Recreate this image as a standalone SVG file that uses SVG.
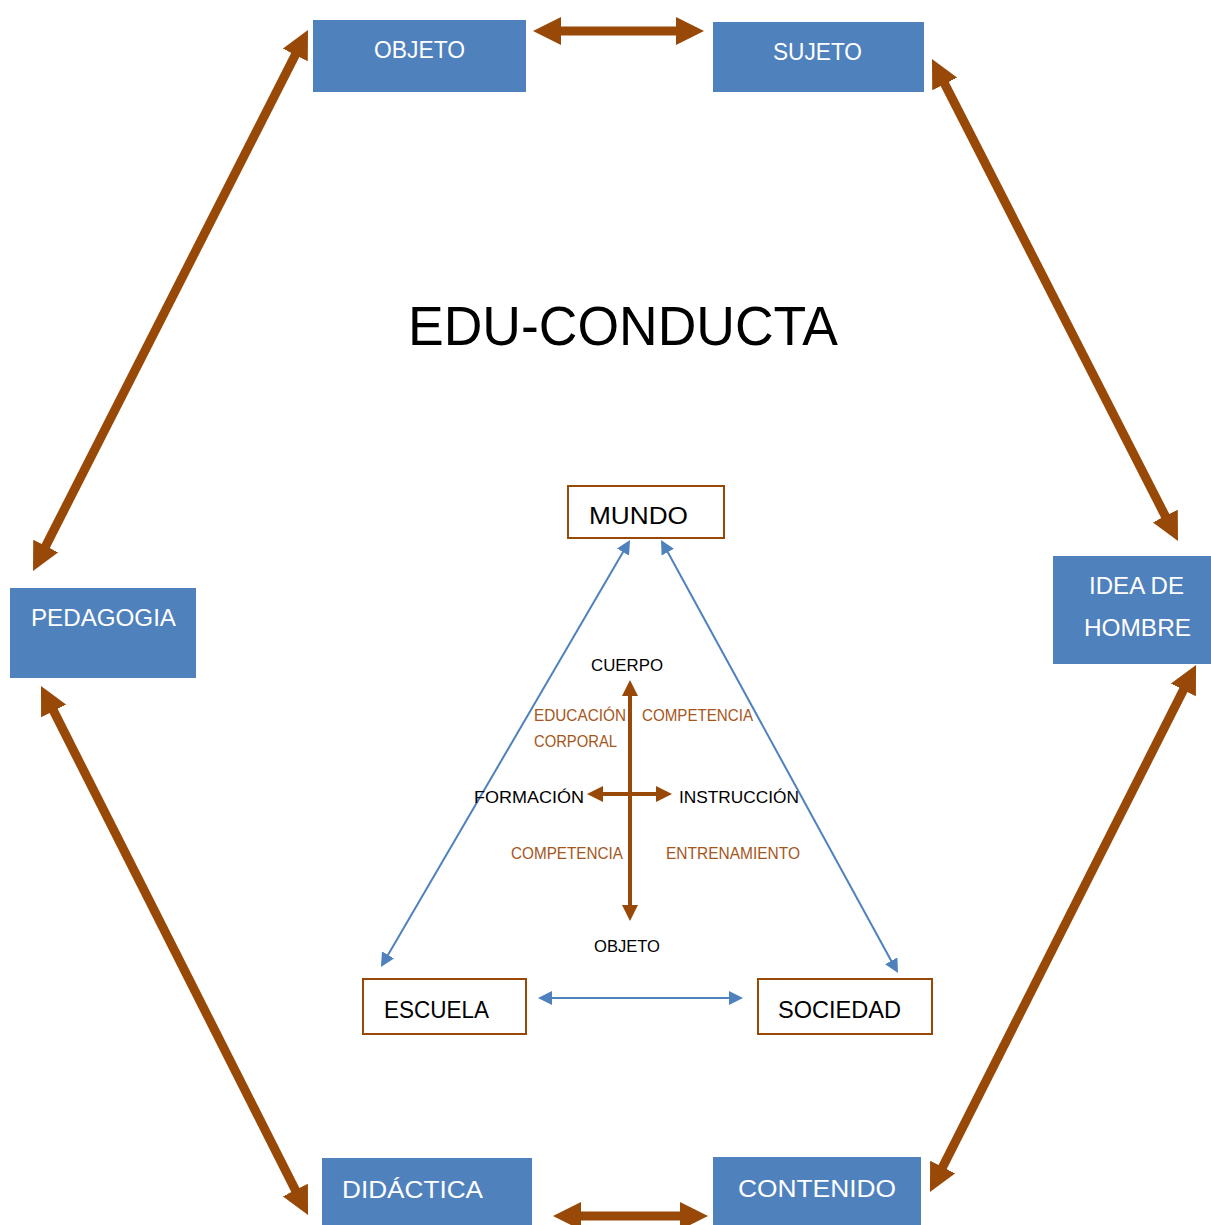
<svg xmlns="http://www.w3.org/2000/svg" width="1211" height="1225" viewBox="0 0 1211 1225">
<style>
text{font-family:"Liberation Sans",Arial,sans-serif}
.bb{fill:#4F81BD}
.wt{fill:#FFFFFF;font-size:24px}
.ob{fill:#FFFFFF;stroke:#984807;stroke-width:2}
.bt{fill:#000000;font-size:24px}
.sm{font-size:17px}
.lb{fill:#A5561B;font-size:16px}
.thick{stroke:#984807;stroke-width:9;fill:none;marker-start:url(#bh);marker-end:url(#bh)}
.thin{stroke:#4F81BD;stroke-width:2;fill:none;marker-start:url(#blh);marker-end:url(#blh)}
.mid{stroke:#984807;stroke-width:4;fill:none;marker-start:url(#mh);marker-end:url(#mh)}
</style>
<defs>
<marker id="bh" markerUnits="userSpaceOnUse" markerWidth="28" markerHeight="28" refX="4" refY="14" orient="auto-start-reverse" viewBox="0 0 28 28"><path d="M0,0 L28,14 L0,28 z" fill="#984807"/></marker>
<marker id="blh" markerUnits="userSpaceOnUse" markerWidth="14" markerHeight="14" refX="3" refY="7" orient="auto-start-reverse" viewBox="0 0 14 14"><path d="M0,0 L14,7 L0,14 z" fill="#4F81BD"/></marker>
<marker id="mh" markerUnits="userSpaceOnUse" markerWidth="16" markerHeight="16" refX="3" refY="8" orient="auto-start-reverse" viewBox="0 0 16 16"><path d="M0,0 L16,8 L0,16 z" fill="#984807"/></marker>
</defs>
<rect width="1211" height="1225" fill="#FFFFFF"/>
<g id="connectors">
<line class="thick" x1="557" y1="31" x2="680" y2="31"/>
<line class="thick" x1="297.1" y1="51.4" x2="43.9" y2="549.6"/>
<line class="thick" x1="942.9" y1="80.4" x2="1167.1" y2="519.6"/>
<line class="thick" x1="51.8" y1="707.4" x2="297.2" y2="1193.6"/>
<line class="thick" x1="1185.2" y1="686.4" x2="940.8" y2="1170.6"/>
<line class="thick" x1="577" y1="1216" x2="684" y2="1216"/>
<line class="thin" x1="624.5" y1="549.5" x2="386.5" y2="957.5"/>
<line class="thin" x1="666.3" y1="549.6" x2="892.7" y2="963.4"/>
<line class="thin" x1="549" y1="998" x2="732" y2="998"/>
<line class="mid" x1="630" y1="693" x2="630" y2="908"/>
<line class="mid" x1="600" y1="794" x2="659" y2="794"/>
</g>
<g id="objeto"><rect class="bb" x="313" y="20" width="213" height="72"/><text class="wt" x="374" y="58" textLength="91" lengthAdjust="spacingAndGlyphs">OBJETO</text></g>
<g id="sujeto"><rect class="bb" x="713" y="22" width="211" height="70"/><text class="wt" x="773" y="60" textLength="89" lengthAdjust="spacingAndGlyphs">SUJETO</text></g>
<g id="idea"><rect class="bb" x="1053" y="556" width="158" height="108"/><text class="wt" x="1089" y="594" textLength="95" lengthAdjust="spacingAndGlyphs">IDEA DE</text><text class="wt" x="1084" y="636" textLength="107" lengthAdjust="spacingAndGlyphs">HOMBRE</text></g>
<g id="pedagogia"><rect class="bb" x="10" y="588" width="186" height="90"/><text class="wt" x="31" y="626" textLength="145" lengthAdjust="spacingAndGlyphs">PEDAGOGIA</text></g>
<g id="didactica"><rect class="bb" x="322" y="1158" width="210" height="67"/><text class="wt" x="342" y="1198" textLength="141" lengthAdjust="spacingAndGlyphs">DIDÁCTICA</text></g>
<g id="contenido"><rect class="bb" x="713" y="1157" width="208" height="68"/><text class="wt" x="738" y="1197" textLength="158" lengthAdjust="spacingAndGlyphs">CONTENIDO</text></g>
<g id="title"><text x="408" y="345" fill="#000000" font-size="56" textLength="430" lengthAdjust="spacingAndGlyphs">EDU-CONDUCTA</text></g>
<g id="mundo"><rect class="ob" x="568" y="486" width="156" height="52"/><text class="bt" x="589" y="524" textLength="99" lengthAdjust="spacingAndGlyphs">MUNDO</text></g>
<g id="escuela"><rect class="ob" x="363" y="979" width="163" height="55"/><text class="bt" x="384" y="1018" textLength="105" lengthAdjust="spacingAndGlyphs">ESCUELA</text></g>
<g id="sociedad"><rect class="ob" x="758" y="979" width="174" height="55"/><text class="bt" x="778" y="1018" textLength="123" lengthAdjust="spacingAndGlyphs">SOCIEDAD</text></g>
<g id="cuerpo"><text class="sm" x="591" y="671" textLength="72" lengthAdjust="spacingAndGlyphs">CUERPO</text></g>
<g id="formacion"><text class="sm" x="474" y="803" textLength="110" lengthAdjust="spacingAndGlyphs">FORMACIÓN</text></g>
<g id="instruccion"><text class="sm" x="679" y="803" textLength="120" lengthAdjust="spacingAndGlyphs">INSTRUCCIÓN</text></g>
<g id="objeto2"><text class="sm" x="594" y="952" textLength="66" lengthAdjust="spacingAndGlyphs">OBJETO</text></g>
<g id="labels">
<text class="lb" x="534" y="721" textLength="92" lengthAdjust="spacingAndGlyphs">EDUCACIÓN</text>
<text class="lb" x="534" y="747" textLength="83" lengthAdjust="spacingAndGlyphs">CORPORAL</text>
<text class="lb" x="642" y="721" textLength="111" lengthAdjust="spacingAndGlyphs">COMPETENCIA</text>
<text class="lb" x="511" y="859" textLength="112" lengthAdjust="spacingAndGlyphs">COMPETENCIA</text>
<text class="lb" x="666" y="859" textLength="134" lengthAdjust="spacingAndGlyphs">ENTRENAMIENTO</text>
</g>
</svg>
